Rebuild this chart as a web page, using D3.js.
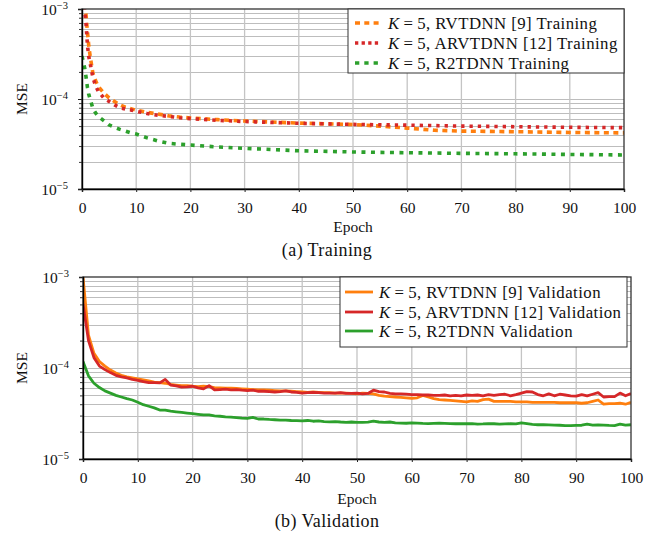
<!DOCTYPE html>
<html>
<head>
<meta charset="utf-8">
<script src="https://cdn.jsdelivr.net/npm/d3@7"></script>
<style>
  html, body { margin: 0; padding: 0; background: #fff; }
  svg { display: block; }
  text { font-family: "Liberation Serif", "Times New Roman", serif; fill: #111; }
</style>
</head>
<body>
<svg id="chart" width="650" height="538"></svg>
<script>
// ---------------- DATA ----------------
const seriesNames = ["RVTDNN [9]", "ARVTDNN [12]", "R2TDNN"];
const yMajorTicks = [1e-5, 1e-4, 1e-3];
const xTicks = [0, 10, 20, 30, 40, 50, 60, 70, 80, 90, 100];

const epochsTrain = [0, 0.5, 0.75, 1, 1.25, 1.5, 2, 2.5, 3, 4, 5, 6, 7, 8, 9, 10, 12, 14, 16, 18, 20, 25, 30, 40, 50, 55, 60, 65, 70, 80, 90, 100];
const trainRVTDNN = [3e-3, 1.1e-3, 8.5e-4, 5.6e-4, 3.9e-4, 3.0e-4, 1.95e-4, 1.6e-4, 1.38e-4, 1.17e-4, 1.03e-4, 9.4e-5, 8.6e-5, 8.1e-5, 7.8e-5, 7.5e-5, 7.1e-5, 6.8e-5, 6.5e-5, 6.3e-5, 6.15e-5, 5.9e-5, 5.7e-5, 5.4e-5, 5.2e-5, 5.0e-5, 4.75e-5, 4.5e-5, 4.4e-5, 4.33e-5, 4.25e-5, 4.2e-5];
const trainARVTDNN = [2.5e-3, 9.5e-4, 6.8e-4, 4.0e-4, 2.95e-4, 2.5e-4, 1.75e-4, 1.4e-4, 1.22e-4, 1.03e-4, 9.4e-5, 8.6e-5, 8.0e-5, 7.75e-5, 7.55e-5, 7.3e-5, 6.9e-5, 6.6e-5, 6.4e-5, 6.2e-5, 6.05e-5, 5.8e-5, 5.62e-5, 5.37e-5, 5.22e-5, 5.17e-5, 5.12e-5, 5.06e-5, 5.0e-5, 4.92e-5, 4.85e-5, 4.8e-5];
const trainR2TDNN = [3.0e-4, 2.2e-4, 1.75e-4, 1.35e-4, 1.12e-4, 1.0e-4, 7.9e-5, 7.0e-5, 6.4e-5, 5.75e-5, 5.15e-5, 4.85e-5, 4.6e-5, 4.4e-5, 4.2e-5, 4.08e-5, 3.7e-5, 3.42e-5, 3.22e-5, 3.14e-5, 3.08e-5, 2.93e-5, 2.83e-5, 2.66e-5, 2.58e-5, 2.55e-5, 2.53e-5, 2.51e-5, 2.49e-5, 2.46e-5, 2.42e-5, 2.39e-5];

// Validation (one value per epoch 0..100)
const epochsVal = d3.range(0, 101);
const valRVTDNN = [1.0e-3, 2.3e-4, 1.45e-4, 1.18e-4, 1.05e-4, 9.5e-5, 8.8e-5, 8.3e-5, 8.0e-5, 7.8e-5,
  7.6e-5, 7.4e-5, 7.2e-5, 7.0e-5, 6.9e-5, 6.8e-5, 6.6e-5, 6.5e-5, 6.4e-5, 6.4e-5,
  6.3e-5, 6.25e-5, 6.3e-5, 6.25e-5, 6.1e-5, 6.05e-5, 6.0e-5, 6.0e-5, 5.95e-5, 5.9e-5,
  5.85e-5, 5.8e-5, 5.75e-5, 5.75e-5, 5.7e-5, 5.65e-5, 5.6e-5, 5.6e-5, 5.55e-5, 5.5e-5,
  5.45e-5, 5.4e-5, 5.45e-5, 5.4e-5, 5.35e-5, 5.35e-5, 5.3e-5, 5.3e-5, 5.3e-5, 5.25e-5,
  5.2e-5, 5.3e-5, 5.25e-5, 5.2e-5, 5.0e-5, 4.9e-5, 4.85e-5, 4.8e-5, 4.75e-5, 4.7e-5,
  4.65e-5, 4.7e-5, 5.0e-5, 4.8e-5, 4.6e-5, 4.5e-5, 4.45e-5, 4.4e-5, 4.35e-5, 4.3e-5,
  4.25e-5, 4.35e-5, 4.3e-5, 4.5e-5, 4.55e-5, 4.3e-5, 4.3e-5, 4.3e-5, 4.3e-5, 4.25e-5,
  4.25e-5, 4.25e-5, 4.2e-5, 4.2e-5, 4.2e-5, 4.2e-5, 4.2e-5, 4.15e-5, 4.15e-5, 4.15e-5,
  4.15e-5, 4.1e-5, 4.15e-5, 4.3e-5, 4.45e-5, 4.0e-5, 4.05e-5, 4.05e-5, 4.1e-5, 4.0e-5, 4.2e-5];
const valARVTDNN = [5.1e-4, 2.0e-4, 1.3e-4, 1.05e-4, 9.6e-5, 8.9e-5, 8.3e-5, 8.0e-5, 7.8e-5, 7.5e-5,
  7.3e-5, 7.1e-5, 6.9e-5, 6.9e-5, 6.85e-5, 7.5e-5, 6.5e-5, 6.35e-5, 6.15e-5, 6.2e-5,
  6.3e-5, 6.05e-5, 5.9e-5, 6.4e-5, 5.75e-5, 5.8e-5, 5.85e-5, 5.75e-5, 5.8e-5, 5.7e-5,
  5.65e-5, 5.7e-5, 5.55e-5, 5.55e-5, 5.5e-5, 5.45e-5, 5.5e-5, 5.6e-5, 5.45e-5, 5.4e-5,
  5.3e-5, 5.35e-5, 5.4e-5, 5.35e-5, 5.3e-5, 5.3e-5, 5.3e-5, 5.35e-5, 5.25e-5, 5.25e-5,
  5.3e-5, 5.2e-5, 5.25e-5, 5.7e-5, 5.5e-5, 5.45e-5, 5.25e-5, 5.2e-5, 5.2e-5, 5.15e-5,
  5.1e-5, 5.1e-5, 5.05e-5, 5.05e-5, 5.0e-5, 5.0e-5, 5.05e-5, 4.95e-5, 5.0e-5, 4.95e-5,
  5.05e-5, 5.0e-5, 5.05e-5, 4.95e-5, 5.1e-5, 5.0e-5, 5.1e-5, 5.15e-5, 4.95e-5, 5.1e-5,
  5.3e-5, 5.5e-5, 5.45e-5, 5.1e-5, 4.95e-5, 5.2e-5, 4.95e-5, 5.15e-5, 5.05e-5, 4.95e-5,
  4.9e-5, 5.1e-5, 4.95e-5, 5.15e-5, 5.35e-5, 4.8e-5, 4.85e-5, 4.85e-5, 5.3e-5, 4.95e-5, 5.25e-5];
const valR2TDNN = [1.18e-4, 8.2e-5, 6.8e-5, 6.1e-5, 5.6e-5, 5.3e-5, 5.0e-5, 4.8e-5, 4.6e-5, 4.45e-5,
  4.2e-5, 3.95e-5, 3.8e-5, 3.65e-5, 3.45e-5, 3.45e-5, 3.35e-5, 3.3e-5, 3.25e-5, 3.2e-5,
  3.15e-5, 3.1e-5, 3.05e-5, 3.05e-5, 2.98e-5, 2.95e-5, 2.9e-5, 2.88e-5, 2.85e-5, 2.82e-5,
  2.8e-5, 2.86e-5, 2.75e-5, 2.75e-5, 2.72e-5, 2.7e-5, 2.68e-5, 2.68e-5, 2.65e-5, 2.64e-5,
  2.62e-5, 2.65e-5, 2.6e-5, 2.62e-5, 2.58e-5, 2.56e-5, 2.58e-5, 2.55e-5, 2.53e-5, 2.55e-5,
  2.53e-5, 2.52e-5, 2.54e-5, 2.6e-5, 2.55e-5, 2.52e-5, 2.55e-5, 2.5e-5, 2.48e-5, 2.47e-5,
  2.5e-5, 2.48e-5, 2.46e-5, 2.45e-5, 2.46e-5, 2.47e-5, 2.46e-5, 2.45e-5, 2.44e-5, 2.45e-5,
  2.44e-5, 2.45e-5, 2.42e-5, 2.43e-5, 2.45e-5, 2.44e-5, 2.42e-5, 2.43e-5, 2.44e-5, 2.43e-5,
  2.5e-5, 2.45e-5, 2.4e-5, 2.38e-5, 2.38e-5, 2.37e-5, 2.36e-5, 2.35e-5, 2.33e-5, 2.33e-5,
  2.34e-5, 2.35e-5, 2.42e-5, 2.36e-5, 2.37e-5, 2.36e-5, 2.34e-5, 2.33e-5, 2.42e-5, 2.36e-5, 2.38e-5];

// ---------------- STYLE ----------------
const colors = ["#ff7f0e", "#d62728", "#2ca02c"];
const trainDash = ["5,4.5", "3.3,5", "4,5.5"];
const trainLegendDash = ["5,4.3", "3.3,3.3", "4.3,5"];
const FONT = '"Liberation Serif", "Times New Roman", serif';

const svg = d3.select("#chart");

const panels = [
  { id: "a", x0: 82, x1: 624, y0: 9, y1: 189, kind: "Training", caption: "(a) Training",
    xs: epochsTrain, data: [trainRVTDNN, trainARVTDNN, trainR2TDNN], dashed: true,
    legend: { x0: 348, x1: 624, y0: 9, y1: 73, rows: [23, 43, 63], sx0: 355, sx1: 380, tx: 388 },
    epochY: 232, captionY: 256 },
  { id: "b", x0: 83, x1: 631, y0: 277, y1: 459, kind: "Validation", caption: "(b) Validation",
    xs: epochsVal, data: [valRVTDNN, valARVTDNN, valR2TDNN], dashed: false,
    legend: { x0: 340, x1: 627, y0: 277, y1: 347, rows: [292, 312, 331], sx0: 345, sx1: 373, tx: 379 },
    epochY: 504, captionY: 527 }
];

function minorTicks() {
  const out = [];
  [1e-5, 1e-4].forEach(d => { for (let k = 2; k <= 9; k++) out.push(d * k); });
  return out;
}
const yMinor = minorTicks();

panels.forEach(p => {
  const x = d3.scaleLinear().domain([0, 100]).range([p.x0, p.x1]);
  const y = d3.scaleLog().domain([1e-5, 1e-3]).range([p.y1, p.y0]);
  const g = svg.append("g");

  // clip
  svg.append("clipPath").attr("id", "clip-" + p.id)
    .append("rect").attr("x", p.x0).attr("y", p.y0).attr("width", p.x1 - p.x0).attr("height", p.y1 - p.y0);

  // grid
  const grid = g.append("g");
  grid.selectAll("line.hg").data(yMinor.concat(yMajorTicks.slice(1, 2))).enter().append("line")
    .attr("x1", p.x0).attr("x2", p.x1)
    .attr("y1", d => Math.round(y(d)) + 0.5).attr("y2", d => Math.round(y(d)) + 0.5)
    .attr("stroke", "#bdbdbd").attr("stroke-width", 1);
  grid.selectAll("line.vg").data(xTicks.slice(1, -1)).enter().append("line")
    .attr("y1", p.y0).attr("y2", p.y1)
    .attr("x1", d => x(d)).attr("x2", d => x(d))
    .attr("stroke", "#c4c4c4").attr("stroke-width", 1.3);

  // lines
  const line = d3.line().x((d, i) => x(p.xs[i])).y(d => y(d));
  const lg = g.append("g").attr("clip-path", "url(#clip-" + p.id + ")");
  p.data.forEach((vals, si) => {
    lg.append("path").datum(vals)
      .attr("d", line)
      .attr("fill", "none")
      .attr("stroke", colors[si])
      .attr("stroke-width", p.dashed ? 3.6 : 2.8)
      .attr("stroke-linejoin", "round")
      .attr("stroke-dasharray", p.dashed ? trainDash[si] : null);
  });

  // frame
  g.append("rect").attr("x", p.x0).attr("y", p.y0).attr("width", p.x1 - p.x0).attr("height", p.y1 - p.y0)
    .attr("fill", "none").attr("stroke", "#333").attr("stroke-width", 1.3);

  // y axis (major)
  const yAxis = d3.axisLeft(y).tickValues(yMajorTicks).tickSize(4).tickFormat(() => "");
  const ya = g.append("g").attr("transform", `translate(${p.x0},0)`).call(yAxis);
  ya.select(".domain").attr("stroke", "#000").attr("stroke-width", 1.4);
  ya.selectAll(".tick line").attr("stroke", "#222").attr("stroke-width", 1);
  // minor ticks
  const yMinorAxis = d3.axisLeft(y).tickValues(yMinor).tickSize(3).tickFormat(() => "");
  const ym = g.append("g").attr("transform", `translate(${p.x0},0)`).call(yMinorAxis);
  ym.select(".domain").remove();
  ym.selectAll(".tick line").attr("stroke", "#222").attr("stroke-width", 0.9);

  // y labels (10^k)
  yMajorTicks.forEach(v => {
    const t = g.append("text").attr("x", p.x0 - 14).attr("y", y(v) + 6)
      .attr("text-anchor", "end").style("font-size", "15.5px");
    t.append("tspan").text("10");
    t.append("tspan").attr("dy", -6).style("font-size", "10.5px").text("−" + Math.round(-Math.log10(v)));
  });

  // x axis
  const xAxis = d3.axisBottom(x).tickValues(xTicks).tickSize(3).tickFormat(d3.format("d"));
  const xa = g.append("g").attr("transform", `translate(0,${p.y1})`).call(xAxis);
  xa.select(".domain").attr("stroke", "#000").attr("stroke-width", 1.4);
  xa.selectAll(".tick line").attr("stroke", "#222");
  xa.selectAll(".tick text").attr("y", 0).attr("dy", 0)
    .attr("transform", "translate(0,23.5)")
    .style("font-family", FONT).style("font-size", "15.5px").attr("fill", "#111");

  // axis titles
  g.append("text").attr("x", (p.x0 + p.x1) / 2).attr("y", p.epochY).attr("text-anchor", "middle")
    .style("font-size", "15.5px").text("Epoch");
  g.append("text").attr("transform", `translate(27,${(p.y0 + p.y1) / 2}) rotate(-90)`)
    .attr("text-anchor", "middle").style("font-size", "15.5px").text("MSE");
  svg.append("text").attr("x", 327).attr("y", p.captionY).attr("text-anchor", "middle")
    .style("font-size", "18px").style("letter-spacing", "0.4px").text(p.caption);

  // legend
  const L = p.legend;
  g.append("rect").attr("x", L.x0).attr("y", L.y0).attr("width", L.x1 - L.x0).attr("height", L.y1 - L.y0)
    .attr("fill", "#fff").attr("stroke", "#333").attr("stroke-width", 1);
  seriesNames.forEach((name, si) => {
    const ry = L.rows[si];
    g.append("line").attr("x1", L.sx0).attr("x2", L.sx1).attr("y1", ry).attr("y2", ry)
      .attr("stroke", colors[si]).attr("stroke-width", p.dashed ? 3.6 : 2.8)
      .attr("stroke-dasharray", p.dashed ? trainLegendDash[si] : null);
    const t = g.append("text").attr("x", L.tx).attr("y", ry + 5.5)
      .style("font-size", "16.8px").style("letter-spacing", "0.45px");
    t.append("tspan").style("font-style", "italic").text("K");
    t.append("tspan").text("\u2009=\u20095, " + name + " " + p.kind);
  });
});
</script>
</body>
</html>
